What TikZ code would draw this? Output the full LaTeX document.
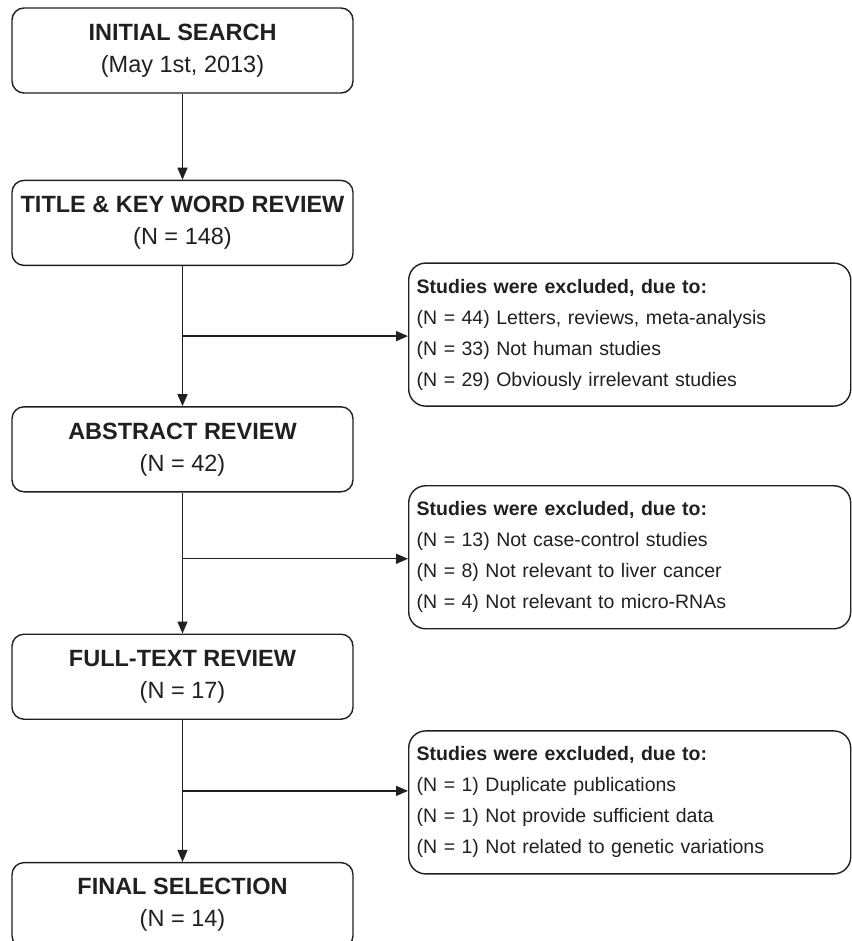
\documentclass[tikz,border=0pt]{standalone}
\usepackage{fontspec}
\setmainfont{Liberation Sans}
\usepackage{tikz}
\usetikzlibrary{positioning,arrows.meta,calc}
\definecolor{ink}{RGB}{35,31,32}

\begin{document}
\begin{tikzpicture}[x=1pt, y=1pt, node distance={141pt},
  stage/.style={draw=ink, line width=1.4pt, rounded corners=12pt, minimum width=341pt, minimum height=85pt, align=center, inner sep=0pt, text=ink, font=\fontsize{23.5}{32}\selectfont},
  excl/.style={draw=ink, line width=1.4pt, rounded corners=17pt, text width=426pt, minimum height=143pt, align=left, inner xsep=8pt, inner ysep=0pt, text=ink, anchor=west, font=\fontsize{19.5}{31}\selectfont},
  flow/.style={draw=ink, line width=1.4pt, -{Triangle[length=12pt,width=10pt]}}]
\useasboundingbox (0,0) rectangle (851,-941);

\node[stage] (init) at (182.5,-50.5) {\textbf{INITIAL SEARCH}\\(May 1st, 2013)};
\node[stage] (tkw) [below=86pt of init] {\textbf{TITLE \& KEY WORD REVIEW}\\(N = 148)};
\node[stage] (abs) [below=140pt of tkw] {\textbf{ABSTRACT REVIEW}\\(N = 42)};
\node[stage] (full) [below=141pt of abs] {\textbf{FULL-TEXT REVIEW}\\(N = 17)};
\node[stage] (final) [below=142pt of full] {\textbf{FINAL SELECTION}\\(N = 14)};

\coordinate (j1) at ($(tkw.south)!0.5!(abs.north)$);
\coordinate (j2) at ($(abs.south)!0.47!(full.north)$);
\coordinate (j3) at ($(full.south)!0.5!(final.north)$);

\node[excl] (exA) at ($(j1)+(225.5,1.5)$) {\textbf{Studies were excluded, due to:}\\(N = 44) Letters, reviews, meta-analysis\\(N = 33) Not human studies\\(N = 29) Obviously irrelevant studies};
\node[excl] (exB) at ($(j2)+(225.5,1.5)$) {\textbf{Studies were excluded, due to:}\\(N = 13) Not case-control studies\\(N = 8) Not relevant to liver cancer\\(N = 4) Not relevant to micro-RNAs};
\node[excl] (exC) at ($(j3)+(225.5,-11.5)$) {\textbf{Studies were excluded, due to:}\\(N = 1) Duplicate publications\\(N = 1) Not provide sufficient data\\(N = 1) Not related to genetic variations};

\draw[flow] (init) -- (tkw); \draw[flow] (tkw) -- (abs); \draw[flow] (abs) -- (full); \draw[flow] (full) -- (final);
\draw[flow] (j1) -- (j1 -| exA.west); \draw[flow] (j2) -- (j2 -| exB.west); \draw[flow] (j3) -- (j3 -| exC.west);

\end{tikzpicture}
\end{document}
